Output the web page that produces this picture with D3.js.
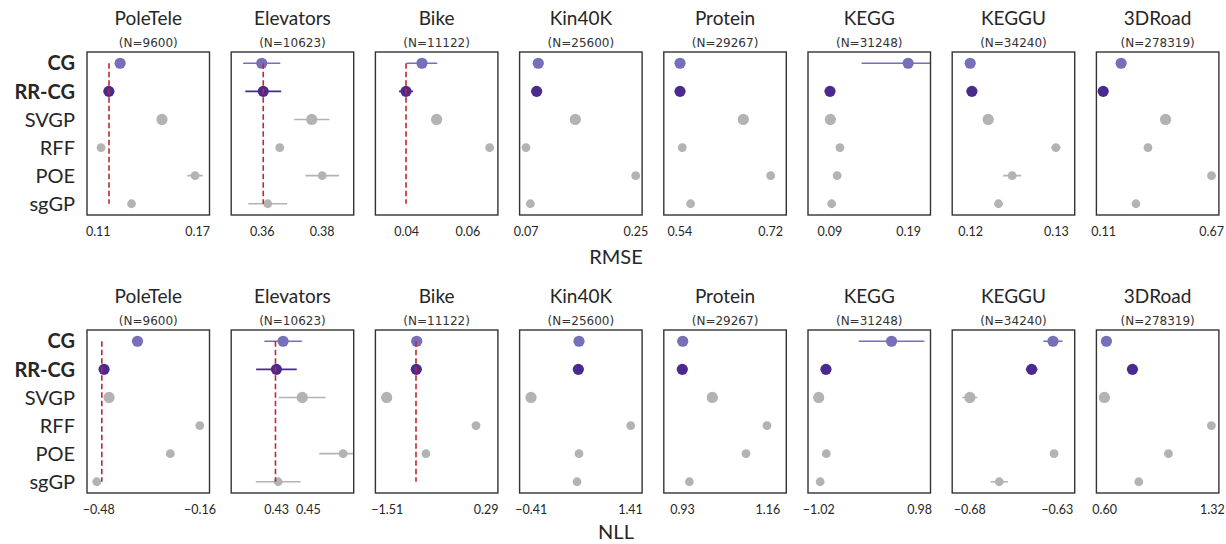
<!DOCTYPE html>
<html>
<head>
<meta charset="utf-8">
<script src="https://cdn.jsdelivr.net/npm/d3@7"></script>
<style>
  body { margin: 0; background: #fff; }
  text { font-family: Lato, "Open Sans", sans-serif; fill: #262626; }
</style>
</head>
<body>
<div id="chart-area"></div>
<script>
var datasets = ["PoleTele", "Elevators", "Bike", "Kin40K", "Protein", "KEGG", "KEGGU", "3DRoad"];
var sizes = [9600, 10623, 11122, 25600, 29267, 31248, 34240, 278319];
var methods = ["CG", "RR-CG", "SVGP", "RFF", "POE", "sgGP"];

// RMSE, one row per dataset, one value per method (null = not run)
var rmseMean = [
    [0.1235, 0.1167, 0.1488, 0.1120, 0.1688, 0.1304],
    [0.3600, 0.3605, 0.3767, 0.3660, 0.3802, 0.3620],
    [0.0452, 0.0400, 0.0500, 0.0673, null, null],
    [0.0907, 0.0880, 0.1515, 0.0705, 0.2507, 0.0777],
    [0.5414, 0.5414, 0.6670, 0.5459, 0.7213, 0.5624],
    [0.1900, 0.0909, 0.0913, 0.1035, 0.1000, 0.0930],
    [0.1200, 0.1202, 0.1221, 0.1300, 0.1249, 0.1233],
    [0.2033, 0.1105, 0.4337, 0.3424, 0.6717, 0.2803]
];
var rmseErr = [
    [0, 0, 0, 0, 0.0047, 0],
    [0.0062, 0.0060, 0.0059, 0, 0.0056, 0.0065],
    [0.0050, 0.0023, 0, 0, 0, 0],
    [0, 0, 0, 0, 0, 0],
    [0, 0, 0, 0, 0, 0],
    [0.0590, 0, 0, 0, 0, 0],
    [0, 0, 0, 0.00056, 0.00105, 0.0005],
    [0, 0, 0, 0, 0, 0]
];
var rmseRef = [0.1168, 0.3605, 0.0400, null, null, null, null, null];
var rmseLimits = [
    [0.1035, 0.1775], [0.3498, 0.3907], [0.0300, 0.0700], [0.0600, 0.2612],
    [0.5092, 0.7523], [0.0630, 0.2184], [0.1179, 0.1322], [0.0753, 0.7100]
];
var rmseTicks = [
    [0.11, 0.17], [0.36, 0.38], [0.04, 0.06], [0.07, 0.25],
    [0.54, 0.72], [0.09, 0.19], [0.12, 0.13], [0.11, 0.67]
];

// NLL
var nllMean = [
    [-0.356, -0.4619, -0.446, -0.159, -0.2522, -0.485],
    [0.4344, 0.4302, 0.4465, null, 0.4722, 0.4313],
    [-0.9645, -0.9718, -1.51, 0.1136, -0.7973, null],
    [0.4753, 0.4631, -0.4045, 1.4228, 0.4753, 0.439],
    [0.9319, 0.9308, 1.0117, 1.1591, 1.1026, 0.9499],
    [0.4335, -0.8675, -1.012, null, -0.861, -0.9824],
    [-0.6321, -0.6443, -0.6796, null, -0.6315, -0.6628],
    [0.6154, 0.7892, 0.602, 1.3167, 1.0297, 0.8316]
];
var nllErr = [
    [0, 0.008, 0, 0, 0, 0],
    [0.0118, 0.0128, 0.0147, 0, 0.0150, 0.0141],
    [0, 0, 0, 0, 0, 0],
    [0, 0, 0, 0, 0, 0],
    [0, 0, 0, 0, 0, 0],
    [0.65, 0, 0, 0, 0, 0],
    [0.0055, 0.0033, 0.0043, 0, 0, 0.005],
    [0, 0, 0, 0, 0, 0]
];
var nllRef = [-0.469, 0.4296, -0.9773, null, null, null, null, null];
var nllLimits = [
    [-0.5159, -0.1282], [0.4017, 0.4789], [-1.7155, 0.5118], [-0.6134, 1.6318],
    [0.8809, 1.2112], [-1.224, 1.2057], [-0.6897, -0.6197], [0.5485, 1.3668]
];
var nllTicks = [
    [-0.48, -0.16], [0.43, 0.45], [-1.51, 0.29], [-0.41, 1.41],
    [0.93, 1.16], [-1.02, 0.98], [-0.68, -0.63], [0.60, 1.32]
];

var colors = {"CG": "#7570b8", "RR-CG": "#4b2a8f"};
var grey = "#b3b3b3";
var bigMethods = ["CG", "RR-CG", "SVGP"];

var W = 1226, H = 544;
var panelLeft = 87, panelStep = 144.2, panelW = 122.5, panelH = 163;

var svg = d3.select("#chart-area").append("svg")
    .attr("width", W)
    .attr("height", H);

var yScale = d3.scaleLinear().domain([-0.4, 5.4]).range([0, panelH]);

function drawRow(top, means, errs, refs, limits, ticks, label, labelY) {
    var row = svg.append("g").attr("transform", "translate(0," + top + ")");

    // method labels on the left
    methods.forEach(function (m, j) {
        row.append("text")
            .attr("x", 75)
            .attr("y", yScale(j))
            .attr("dy", "0.36em")
            .attr("text-anchor", "end")
            .style("font-size", "20px")
            .style("font-weight", (m == "CG" || m == "RR-CG") ? "bold" : "normal")
            .text(m);
    });

    datasets.forEach(function (name, i) {
        var x0 = panelLeft + i * panelStep;
        var g = row.append("g").attr("transform", "translate(" + x0 + ",0)");
        var xScale = d3.scaleLinear().domain(limits[i]).range([0, panelW]);
        var clipId = "clip-" + label + "-" + i;

        g.append("clipPath").attr("id", clipId)
            .append("rect").attr("width", panelW).attr("height", panelH);

        g.append("text")
            .attr("x", panelW / 2)
            .attr("y", -27)
            .attr("text-anchor", "middle")
            .style("font-size", "19px")
            .text(name);
        g.append("text")
            .attr("x", panelW / 2)
            .attr("y", -5)
            .attr("text-anchor", "middle")
            .style("font-family", "'DejaVu Sans', sans-serif")
            .style("font-size", "12px")
            .style("fill", "#333")
            .text("(N=" + sizes[i] + ")");

        var axis = d3.axisBottom(xScale)
            .tickValues(ticks[i])
            .tickFormat(d3.format(".2f"))
            .tickSize(0)
            .tickPadding(12);
        var ax = g.append("g")
            .attr("transform", "translate(0," + panelH + ")")
            .call(axis);
        ax.select(".domain").remove();
        ax.selectAll("text")
            .style("font-size", "12.5px")
            .style("font-family", "Lato, sans-serif")
            .attr("fill", "#262626");

        var plot = g.append("g").attr("clip-path", "url(#" + clipId + ")");

        var pts = methods.map(function (m, j) {
            return {method: m, j: j, mean: means[i][j], err: errs[i][j]};
        }).filter(function (d) { return d.mean !== null; });

        function col(d) { return colors[d.method] || grey; }

        plot.selectAll(".err")
            .data(pts.filter(function (d) { return d.err > 0; }))
            .enter()
            .append("line")
            .attr("x1", function (d) { return xScale(d.mean - d.err); })
            .attr("x2", function (d) { return xScale(d.mean + d.err); })
            .attr("y1", function (d) { return yScale(d.j); })
            .attr("y2", function (d) { return yScale(d.j); })
            .attr("stroke", col)
            .attr("stroke-width", 1.6);

        plot.selectAll(".dot")
            .data(pts)
            .enter()
            .append("circle")
            .attr("cx", function (d) { return xScale(d.mean); })
            .attr("cy", function (d) { return yScale(d.j); })
            .attr("r", function (d) { return bigMethods.indexOf(d.method) >= 0 ? 5.6 : 4.4; })
            .attr("fill", col);

        if (refs[i] !== null) {
            plot.append("line")
                .attr("x1", xScale(refs[i]))
                .attr("x2", xScale(refs[i]))
                .attr("y1", yScale(0))
                .attr("y2", yScale(5))
                .attr("stroke", "#c1272d")
                .attr("stroke-width", 1.6)
                .attr("stroke-dasharray", "5.5,3");
        }

        g.append("rect")
            .attr("width", panelW)
            .attr("height", panelH)
            .attr("fill", "none")
            .attr("stroke", "#333")
            .attr("stroke-width", 1.4);
    });

    svg.append("text")
        .attr("x", 616)
        .attr("y", labelY)
        .attr("text-anchor", "middle")
        .style("font-size", "20px")
        .text(label);
}

drawRow(52, rmseMean, rmseErr, rmseRef, rmseLimits, rmseTicks, "RMSE", 264);
drawRow(330, nllMean, nllErr, nllRef, nllLimits, nllTicks, "NLL", 539);
</script>
</body>
</html>
